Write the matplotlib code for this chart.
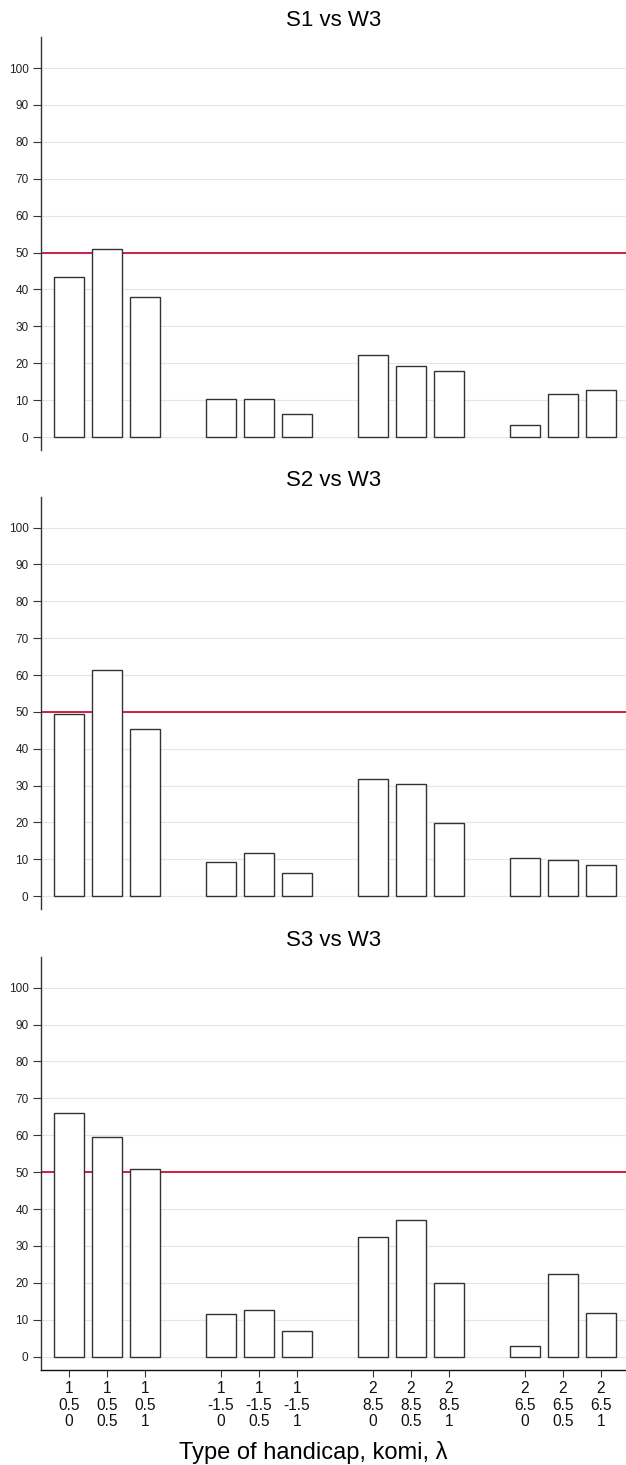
import numpy as np
import matplotlib
matplotlib.use("Agg")
import matplotlib.pyplot as plt

plt.rcParams['font.family'] = ['Liberation Sans', 'DejaVu Sans']

# handicap type, komi and lambda for each bar
handicap = ['1', '1', '1', '1', '1', '1', '2', '2', '2', '2', '2', '2']
komi = ['0.5', '0.5', '0.5', '-1.5', '-1.5', '-1.5', '8.5', '8.5', '8.5', '6.5', '6.5', '6.5']
lam = ['0', '0.5', '1', '0', '0.5', '1', '0', '0.5', '1', '0', '0.5', '1']

titles = ['S1 vs W3', 'S2 vs W3', 'S3 vs W3']
s1_vals = [43.4, 50.9, 37.9, 10.3, 10.3, 6.3, 22.3, 19.3, 17.9, 3.4, 11.8, 12.8]
s2_vals = [49.3, 61.4, 45.4, 9.3, 11.6, 6.3, 31.8, 30.4, 19.9, 10.4, 9.9, 8.4]
s3_vals = [65.9, 59.4, 50.9, 11.5, 12.6, 7.0, 32.4, 36.9, 20.0, 3.0, 22.5, 11.9]
ref_line = 50

W, H = 626, 1465
fig = plt.figure(figsize=(W / 100, H / 100), dpi=100)

# bars grouped by 3, one empty slot between groups
n = len(lam)
pos = np.arange(n) + np.arange(n) // 3

# axes boxes in pixels: (top, bottom)
boxes = [(37, 450), (496.7, 909), (956.7, 1369.5)]
left_px, right_px = 41, 626

tick_color = '#333333'
for i, (title, vals) in enumerate(zip(titles, [s1_vals, s2_vals, s3_vals])):
    top, bot = boxes[i]
    ax = fig.add_axes([left_px / W, 1 - bot / H, (right_px - left_px) / W, (bot - top) / H])
    ax.bar(pos, vals, width=0.77, color='white', edgecolor='#333333', linewidth=1.0, zorder=3)
    ax.axhline(ref_line, color='#c8103e', linewidth=1.3, zorder=2)
    ax.set_ylim(-3.5, 108.4)
    ax.set_xlim(-0.737, 14.66)
    ax.set_yticks(np.arange(0, 101, 10))
    ax.yaxis.grid(True, color='#e6e6e6', linewidth=0.8, zorder=0)
    ax.set_axisbelow(True)
    ax.tick_params(axis='y', labelsize=8.5, length=6, width=0.8, color=tick_color,
                   labelcolor='#222222', pad=3)
    for s in ['top', 'right']:
        ax.spines[s].set_visible(False)
    ax.spines['left'].set_color(tick_color)
    ax.spines['left'].set_linewidth(1.0)
    ax.set_title(title, fontsize=16, pad=8)
    if i < 2:
        ax.spines['bottom'].set_visible(False)
        ax.set_xticks([])
    else:
        ax.spines['bottom'].set_color('#111111')
        ax.spines['bottom'].set_linewidth(1.0)
        labels = [f"{h}\n{k}\n{l}" for h, k, l in zip(handicap, komi, lam)]
        ax.set_xticks(pos)
        ax.set_xticklabels(labels, fontsize=11.2, linespacing=1.1, color='#111111')
        ax.tick_params(axis='x', length=5, width=0.8, color=tick_color, pad=3.5)

fig.text(0.5, 1 - 1459 / H, 'Type of handicap, komi, λ', ha='center', va='baseline', fontsize=17)

fig.savefig('out.png', dpi=100)
